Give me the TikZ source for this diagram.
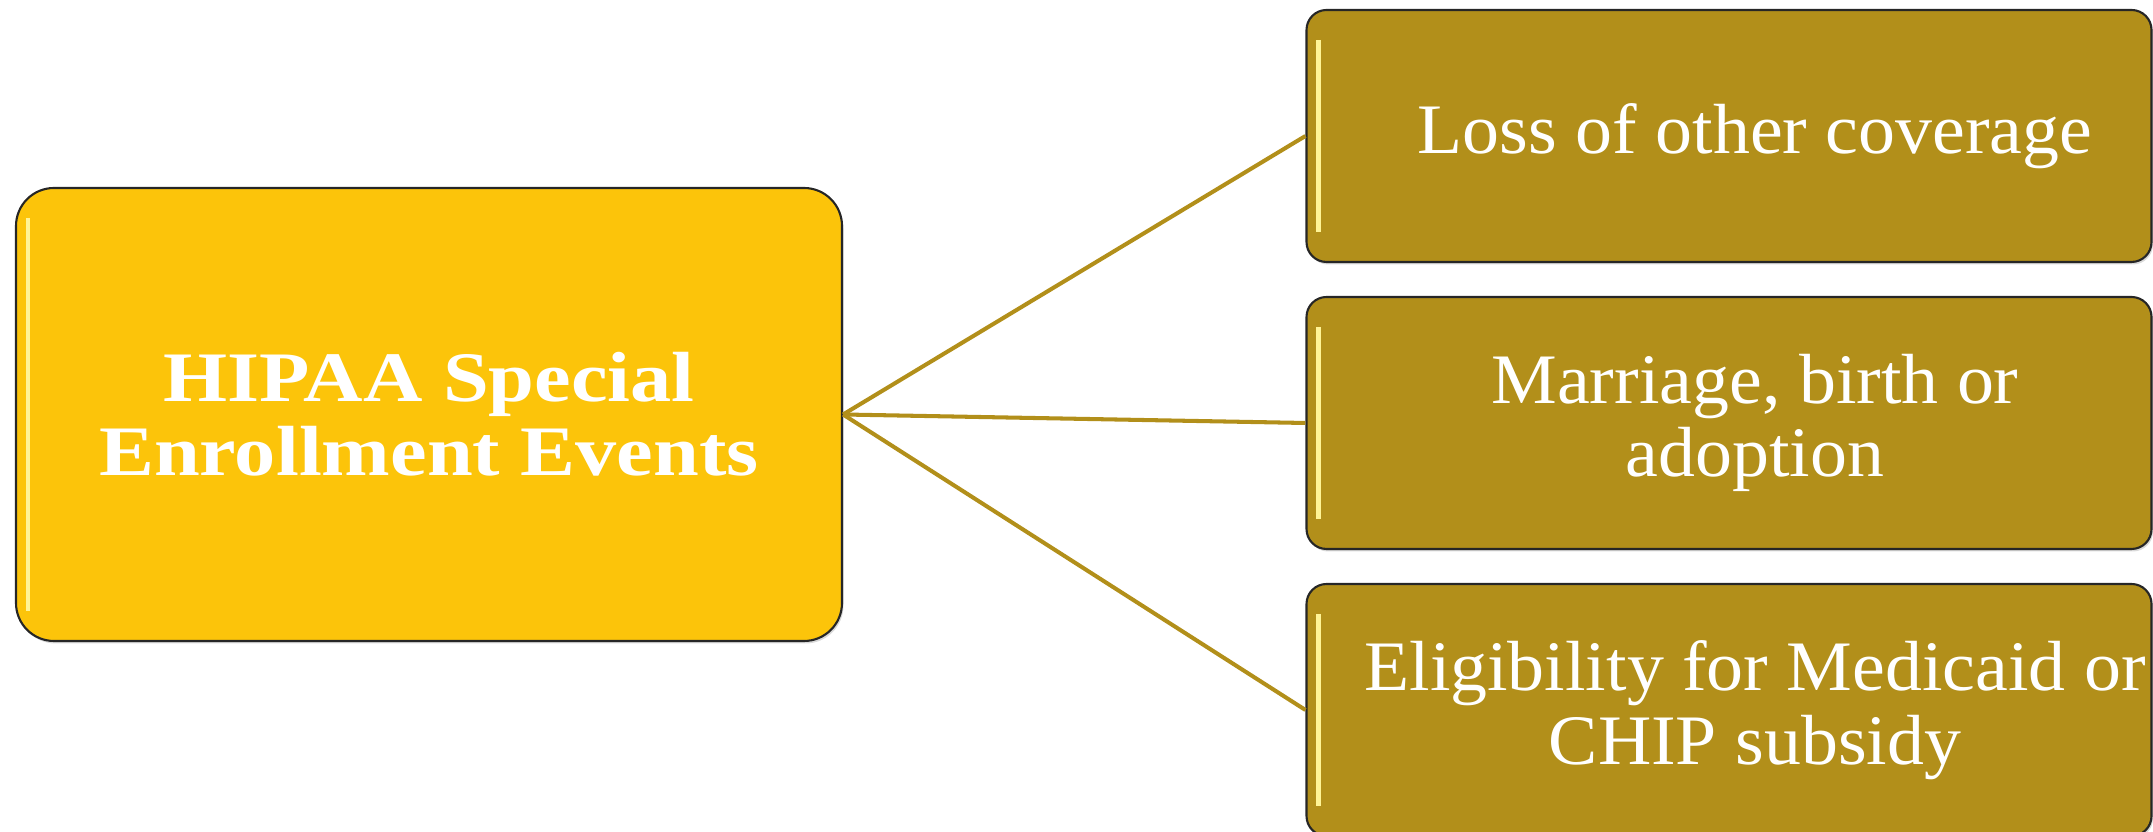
\documentclass[tikz,border=0pt]{standalone}
\usepackage{fontspec}
\setmainfont{Liberation Serif}[FakeStretch=1.04,BoldFeatures={FakeStretch=1.16}]
\usetikzlibrary{shadows}
\definecolor{hubgold}{RGB}{252,196,10}
\definecolor{eventgold}{RGB}{178,143,26}
\definecolor{shine}{RGB}{255,244,150}

\begin{document}
\begin{tikzpicture}[
  box/.style={draw=black!85, line width=1.2pt,
    drop shadow={shadow xshift=0.03cm, shadow yshift=-0.05cm, opacity=0.3},
    path picture={\draw[shine, line width=2.5pt]
      ([xshift=0.24cm,yshift=-0.6cm]path picture bounding box.north west) --
      ([xshift=0.24cm,yshift=0.6cm]path picture bounding box.south west);}},
  hub/.style={box, fill=hubgold, rounded corners=0.76cm,
    minimum width=16.52cm, minimum height=9.06cm, text=white, align=center,
    font=\fontsize{40.4}{42}\selectfont\bfseries},
  event/.style={box, fill=eventgold, rounded corners=0.4cm,
    minimum width=16.9cm, minimum height=5.04cm, inner sep=0pt},
  eventtext/.style={text=white, align=center, xshift=0.52cm,
    font=\fontsize{40.4}{42}\selectfont},
  link/.style={draw=eventgold, line width=2.3pt}
]
\useasboundingbox (0,0) rectangle (43.06,16.64);
\node[hub] (hipaa) at (8.58,8.35) {HIPAA Special\\Enrollment Events};
\node[event, label={[eventtext]center:Loss of other coverage}] (loss) at (34.58,13.92) {};
\node[event, label={[eventtext]center:Marriage, birth or\\adoption}] (family) at (34.58,8.18) {};
\node[event, label={[eventtext]center:Eligibility for Medicaid or\\CHIP subsidy}] (subsidy) at (34.58,2.44) {};
\draw[link] (hipaa.east) -- (loss.west);
\draw[link] (hipaa.east) -- (family.west);
\draw[link] (hipaa.east) -- (subsidy.west);
\end{tikzpicture}
\end{document}
